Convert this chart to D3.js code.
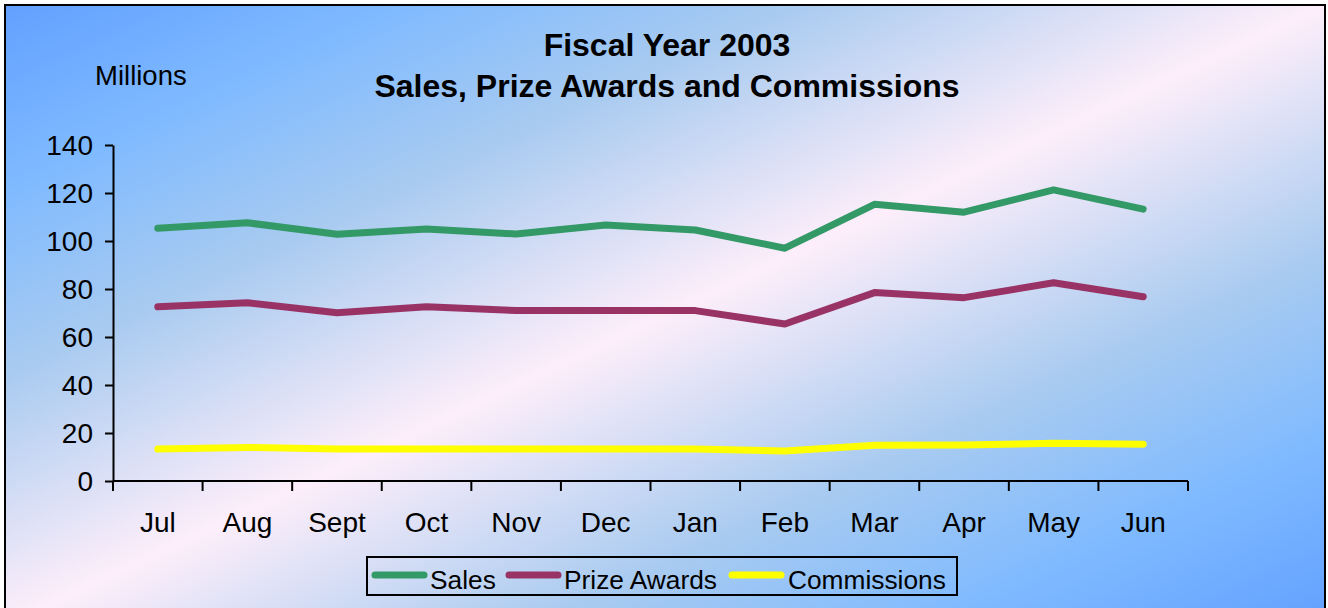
<!DOCTYPE html>
<html>
<head>
<meta charset="utf-8">
<script src="https://cdn.jsdelivr.net/npm/d3@7"></script>
<style>
  html, body { margin: 0; padding: 0; background: #fff; }
  svg { display: block; font-family: "Liberation Sans", Arial, sans-serif; }
</style>
</head>
<body>
<svg id="chart" width="1328" height="608"></svg>
<script>
const months = ["Jul","Aug","Sept","Oct","Nov","Dec","Jan","Feb","Mar","Apr","May","Jun"];
const sales = [105.3, 107.6, 102.8, 105.0, 102.9, 106.7, 104.6, 97.0, 115.3, 112.0, 121.3, 113.3];
const prizeAwards = [72.6, 74.3, 70.1, 72.6, 71.0, 71.0, 71.0, 65.4, 78.5, 76.4, 82.6, 76.8];
const commissions = [13.3, 14.0, 13.3, 13.3, 13.3, 13.3, 13.3, 12.5, 14.9, 15.0, 15.7, 15.3];
const yTicks = [0, 20, 40, 60, 80, 100, 120, 140];
const seriesNames = ["Sales", "Prize Awards", "Commissions"];
const seriesColors = ["#339966", "#993366", "#ffff00"];
const titleLines = ["Fiscal Year 2003", "Sales, Prize Awards and Commissions"];
const yUnitLabel = "Millions";

const series = [sales, prizeAwards, commissions].map((v, i) => ({name: seriesNames[i], color: seriesColors[i], values: v}));

const svg = d3.select("#chart");
const W = 1328, H = 608;

// background gradient
const defs = svg.append("defs");
const grad = defs.append("linearGradient").attr("id", "bg")
  .attr("x1", 0).attr("y1", 0).attr("x2", 1).attr("y2", 1);
[[0, "#62a0ff"], [0.15, "#7fbaff"], [0.3, "#a9cbf0"], [0.5, "#fdeefa"], [0.7, "#a9cbf0"], [0.85, "#7fbaff"], [1, "#62a0ff"]]
  .forEach(([o, c]) => grad.append("stop").attr("offset", o).attr("stop-color", c));

svg.append("rect").attr("x", 0).attr("y", 0).attr("width", W).attr("height", H).attr("fill", "#fff");
svg.append("rect").attr("x", 5).attr("y", 5).attr("width", 1320).attr("height", 620)
  .attr("fill", "url(#bg)").attr("stroke", "#000").attr("stroke-width", 2);

// scales
const x = d3.scaleBand().domain(months).range([113, 1188]);
const y = d3.scaleLinear().domain([0, 140]).range([481, 145]);

// axes
const yAxis = d3.axisLeft(y).tickValues(yTicks).tickSize(8).tickPadding(12).tickSizeOuter(0);
const gy = svg.append("g").attr("transform", "translate(113,0)").call(yAxis);
gy.select(".domain").attr("stroke", "#000").attr("stroke-width", 2);
gy.selectAll(".tick line").attr("stroke", "#000").attr("stroke-width", 2);
gy.selectAll(".tick text").attr("font-size", 28).attr("fill", "#000")
  .attr("font-family", "Liberation Sans, Arial, sans-serif").attr("dy", "0.35em");

const xAxis = d3.axisBottom(x).tickSize(0).tickPadding(31);
const gx = svg.append("g").attr("transform", "translate(0,481)").call(xAxis);
gx.select(".domain").attr("stroke", "#000").attr("stroke-width", 2).attr("d", "M113,0H1188");
gx.selectAll(".tick text").attr("font-size", 28).attr("fill", "#000")
  .attr("font-family", "Liberation Sans, Arial, sans-serif");
// category boundary tick marks
const bounds = months.map(m => x(m)).concat([x(months[months.length - 1]) + x.bandwidth()]);
svg.append("g").selectAll("line").data(bounds).join("line")
  .attr("x1", d => d).attr("x2", d => d).attr("y1", 481).attr("y2", 491)
  .attr("stroke", "#000").attr("stroke-width", 2);

// lines
const line = d3.line().x((d, i) => x(months[i]) + x.bandwidth() / 2).y(d => y(d));
svg.append("g").selectAll("path").data(series).join("path")
  .attr("d", d => line(d.values))
  .attr("fill", "none").attr("stroke", d => d.color).attr("stroke-width", 7)
  .attr("stroke-linejoin", "round").attr("stroke-linecap", "round");

// titles
svg.append("text").attr("x", 667).attr("y", 56).attr("text-anchor", "middle")
  .attr("font-size", 32).attr("font-weight", "bold").text(titleLines[0]);
svg.append("text").attr("x", 667).attr("y", 97).attr("text-anchor", "middle")
  .attr("font-size", 32).attr("font-weight", "bold").text(titleLines[1]);
svg.append("text").attr("x", 95).attr("y", 85).attr("font-size", 27.5).text(yUnitLabel);

// legend
const lg = svg.append("g");
lg.append("rect").attr("x", 367).attr("y", 557).attr("width", 590).attr("height", 38)
  .attr("fill", "none").attr("stroke", "#000").attr("stroke-width", 2);
const legendPos = [[375, 430], [509, 564], [732, 788]];
series.forEach((s, i) => {
  const [lx, tx] = legendPos[i];
  lg.append("line").attr("x1", lx).attr("x2", lx + 49).attr("y1", 575).attr("y2", 575)
    .attr("stroke", s.color).attr("stroke-width", 7).attr("stroke-linecap", "round");
  lg.append("text").attr("x", tx).attr("y", 589).attr("font-size", 26.3).text(s.name);
});
</script>
</body>
</html>
